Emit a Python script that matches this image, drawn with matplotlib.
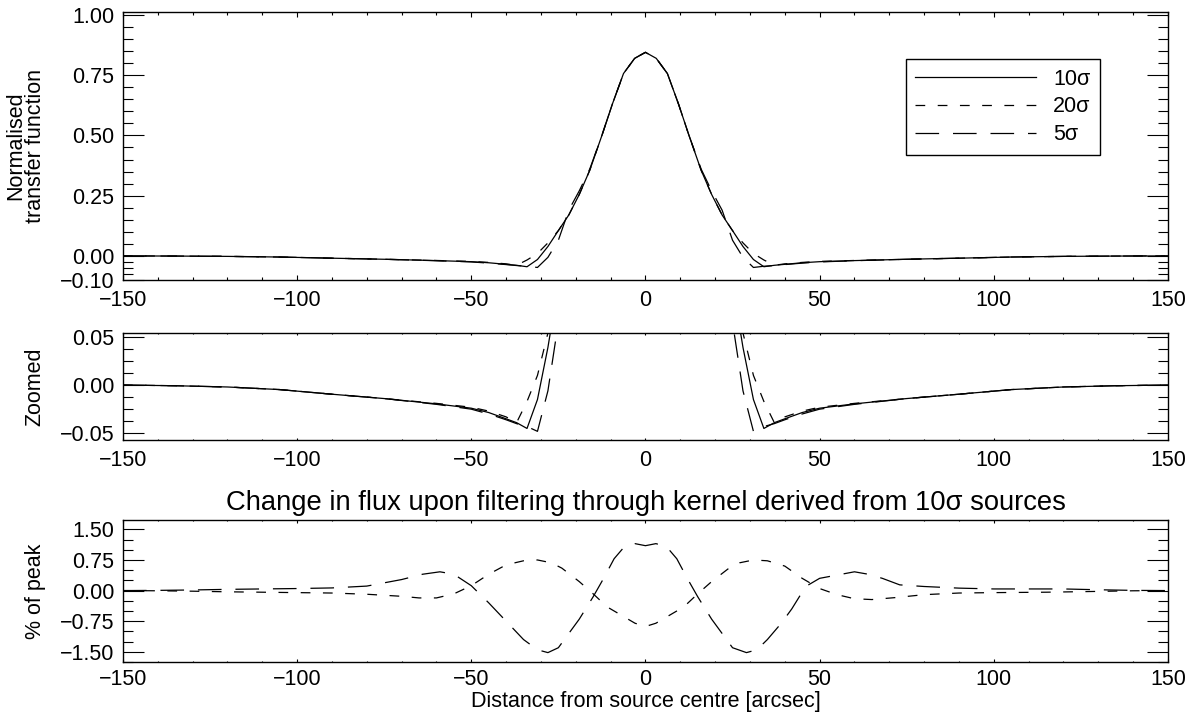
import matplotlib.pyplot as plt
from matplotlib.ticker import MultipleLocator, FixedLocator

plt.rcParams['font.family'] = ['Liberation Sans', 'DejaVu Sans']
plt.rcParams['font.size'] = 15.5
plt.rcParams['lines.scale_dashes'] = False

# transfer function profiles (distance in arcsec)
x_tf = [-150, -135, -120, -105, -90, -75, -60, -50, -45, -40, -37, -34, -31, -28, -25,
        -22, -19, -16, -12.5, -9.5, -6.3, -3.1, 0, 3.1, 6.3, 9.5, 12.5, 16, 19, 22,
        25, 28, 31, 34, 37, 40, 45, 50, 60, 75, 90, 105, 120, 135, 150]

tf_10 = [0.0, -0.0007, -0.002, -0.0047, -0.0095, -0.014, -0.0195, -0.024, -0.0285, -0.035,
         -0.039, -0.045, -0.015, 0.039, 0.105, 0.17, 0.255, 0.355, 0.50, 0.63, 0.757, 0.82,
         0.845, 0.82, 0.757, 0.63, 0.50, 0.355, 0.255, 0.17, 0.105, 0.039, -0.015, -0.045,
         -0.039, -0.035, -0.0285, -0.024, -0.0195, -0.014, -0.0095, -0.0047, -0.002, -0.0007, 0.0]

tf_20 = [0.0, -0.0007, -0.002, -0.0047, -0.0095, -0.014, -0.019, -0.023, -0.027, -0.033,
         -0.039, -0.017, 0.010, 0.054, 0.105, 0.17, 0.255, 0.355, 0.50, 0.63, 0.757, 0.82,
         0.845, 0.82, 0.757, 0.63, 0.50, 0.355, 0.255, 0.17, 0.105, 0.054, 0.010, -0.017,
         -0.039, -0.033, -0.027, -0.023, -0.019, -0.014, -0.0095, -0.0047, -0.002, -0.0007, 0.0]

tf_5 = [0.0, -0.0007, -0.002, -0.0047, -0.0095, -0.014, -0.020, -0.025, -0.030, -0.036,
        -0.040, -0.043, -0.048, -0.006, 0.065, 0.19, 0.27, 0.36, 0.50, 0.63, 0.757, 0.82,
        0.845, 0.82, 0.757, 0.63, 0.50, 0.36, 0.27, 0.19, 0.065, -0.006, -0.048, -0.043,
        -0.040, -0.036, -0.030, -0.025, -0.020, -0.014, -0.0095, -0.0047, -0.002, -0.0007, 0.0]

# change in flux, % of peak
x_d20 = [-150, -140, -130, -120, -110, -100, -90, -80, -70, -65, -60, -55, -50, -45, -40,
         -35, -31, -27, -24, -19, -15, -11, -7, -3, 0, 3, 7, 11, 15, 19, 24, 27, 31, 35,
         40, 45, 50, 55, 60, 65, 72, 80, 90, 100, 115, 130, 140, 150]
d20 = [0.0, -0.005, -0.015, -0.03, -0.04, -0.05, -0.06, -0.09, -0.14, -0.18, -0.18, -0.08,
       0.12, 0.40, 0.63, 0.73, 0.75, 0.68, 0.55, 0.22, -0.08, -0.40, -0.60, -0.80, -0.88,
       -0.80, -0.60, -0.40, -0.08, 0.22, 0.55, 0.68, 0.75, 0.73, 0.60, 0.30, 0.05, -0.10,
       -0.20, -0.22, -0.17, -0.10, -0.06, -0.05, -0.04, -0.02, -0.005, 0.0]

x_d5 = [-150, -140, -130, -120, -110, -100, -90, -80, -70, -64, -59, -55, -50, -45, -40,
        -35, -31, -28, -25, -22, -19, -15, -12, -9, -6, -3, 0, 3, 6, 9, 12, 15, 19, 22,
        25, 29, 32, 35, 39, 42, 46, 50, 55, 60, 64, 68, 73, 80, 90, 100, 110, 120, 130,
        140, 150]
d5 = [0.0, 0.005, 0.015, 0.03, 0.04, 0.05, 0.065, 0.11, 0.27, 0.40, 0.46, 0.40, 0.12,
      -0.30, -0.75, -1.20, -1.45, -1.52, -1.40, -1.05, -0.70, -0.15, 0.30, 0.78, 1.08,
      1.15, 1.10, 1.15, 1.08, 0.78, 0.30, -0.15, -0.70, -1.05, -1.40, -1.52, -1.45, -1.20,
      -0.80, -0.45, 0.10, 0.30, 0.38, 0.46, 0.40, 0.30, 0.14, 0.10, 0.06, 0.04, 0.04,
      0.04, 0.02, 0.005, 0.0]

SHORT = (0, (7, 9))
LONG = (0, (17, 10))
LW = 0.9
FS = 15.5

fig = plt.figure(figsize=(11.89, 7.17), dpi=100)
ax1 = fig.add_axes([0.1034, 0.6095, 0.8789, 0.3738])
ax2 = fig.add_axes([0.1034, 0.3863, 0.8789, 0.1493])
ax3 = fig.add_axes([0.1034, 0.0767, 0.8789, 0.1981])


def style(ax, xtick_len, xpad=7):
    ax.set_xlim(-150, 150)
    ax.xaxis.set_major_locator(MultipleLocator(50))
    ax.xaxis.set_minor_locator(MultipleLocator(10))
    ax.tick_params(which='both', direction='in', top=True, right=True,
                   width=0.8, labelsize=FS, colors='black')
    ax.tick_params(axis='x', which='major', length=xtick_len, pad=xpad)
    ax.tick_params(axis='x', which='minor', length=xtick_len / 2)
    ax.tick_params(axis='y', which='major', length=15, pad=6)
    ax.tick_params(axis='y', which='minor', length=7.5)
    for sp in ax.spines.values():
        sp.set_linewidth(1.0)
    ax.yaxis.set_label_coords(-0.074, 0.5)


# top panel
ax1.plot(x_tf, tf_10, color='black', lw=LW, label='10\u03c3')
ax1.plot(x_tf, tf_20, color='black', lw=LW, linestyle=SHORT, label='20\u03c3')
ax1.plot(x_tf, tf_5, color='black', lw=LW, linestyle=LONG, label='5\u03c3')
style(ax1, 3.9)
ax1.set_ylim(-0.1, 1.0125)
ax1.yaxis.set_major_locator(FixedLocator([-0.1, 0.0, 0.25, 0.5, 0.75, 1.0]))
ax1.yaxis.set_minor_locator(FixedLocator([-0.075, -0.05, -0.025] + [i * 0.05 for i in range(1, 20)]))
ax1.set_yticklabels(['\u22120.10', '0.00', '0.25', '0.50', '0.75', '1.00'])
ax1.set_ylabel('Normalised\ntransfer function', linespacing=0.9)
leg = ax1.legend(loc='upper left', bbox_to_anchor=(0.749, 0.825), frameon=True,
                 fancybox=False, edgecolor='black', framealpha=1, fontsize=FS,
                 handlelength=5.6, handletextpad=0.8, borderpad=0.45, labelspacing=0.32,
                 borderaxespad=0)
leg.get_frame().set_linewidth(1.0)

# zoomed panel
ax2.plot(x_tf, tf_10, color='black', lw=LW)
ax2.plot(x_tf, tf_20, color='black', lw=LW, linestyle=SHORT)
ax2.plot(x_tf, tf_5, color='black', lw=LW, linestyle=LONG)
style(ax2, 1.6)
ax2.set_ylim(-0.057, 0.054)
ax2.yaxis.set_major_locator(FixedLocator([-0.05, 0.0, 0.05]))
ax2.yaxis.set_minor_locator(MultipleLocator(0.0125))
ax2.set_yticklabels(['\u22120.05', '0.00', '0.05'])
ax2.set_ylabel('Zoomed')

# flux change panel
ax3.plot(x_d20, d20, color='black', lw=LW, linestyle=SHORT)
ax3.plot(x_d5, d5, color='black', lw=LW, linestyle=LONG)
style(ax3, 2.1, xpad=5)
ax3.set_ylim(-1.75, 1.73)
ax3.yaxis.set_major_locator(FixedLocator([-1.5, -0.75, 0.0, 0.75, 1.5]))
ax3.yaxis.set_minor_locator(MultipleLocator(0.25))
ax3.set_yticklabels(['\u22121.50', '\u22120.75', '0.00', '0.75', '1.50'])
ax3.set_ylabel('% of peak')
ax3.set_title('Change in flux upon filtering through kernel derived from 10\u03c3 sources',
              fontsize=FS * 1.27, pad=7)
ax3.set_xlabel('Distance from source centre [arcsec]', labelpad=1)

fig.savefig('out.png', dpi=100)
